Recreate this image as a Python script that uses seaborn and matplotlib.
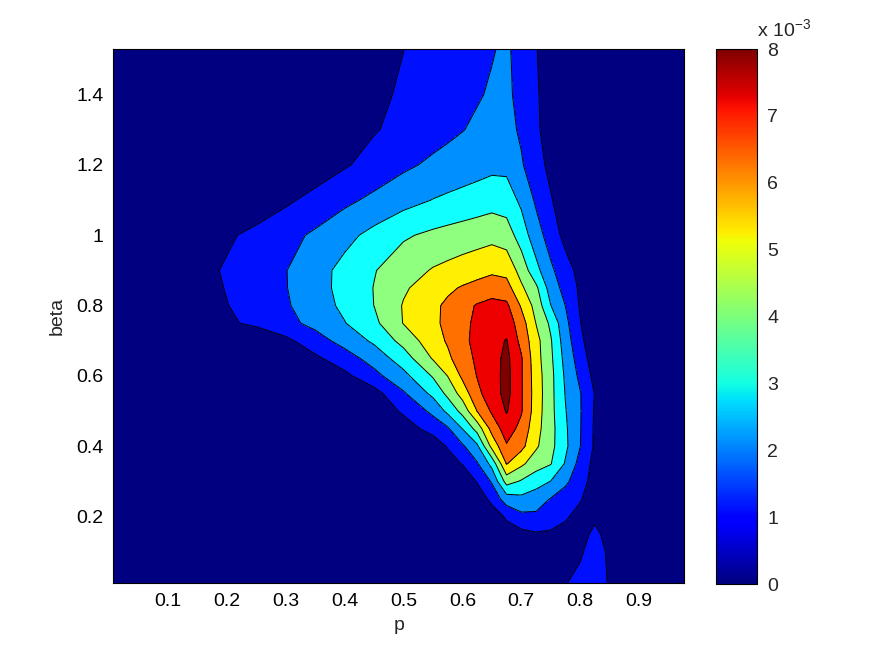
import numpy as np
import matplotlib
matplotlib.use("Agg")
import matplotlib.pyplot as plt
from matplotlib.colors import Normalize
from matplotlib.cm import ScalarMappable
import seaborn as sns

# ---- data (density values in units of 1e-3) ----
p_values = [0.007, 0.1, 0.15, 0.2, 0.25, 0.3, 0.35, 0.4, 0.45, 0.5, 0.55, 0.575, 0.6,
            0.625, 0.65, 0.675, 0.7, 0.725, 0.75, 0.775, 0.8, 0.825, 0.85, 0.9, 0.977]
beta_values = [0.01, 0.1, 0.15, 0.2, 0.25, 0.3, 0.35, 0.4, 0.45, 0.5, 0.55, 0.6, 0.65,
               0.7, 0.75, 0.8, 0.85, 0.9, 1.0, 1.1, 1.2, 1.3, 1.4, 1.53]

z_b001 = [0, 0, 0, 0, 0, 0, 0, 0, 0, 0, 0, 0, 0, 0, 0, 0, 0, 0.05, 0.3, 0.95, 1.3, 1.5, 0.9, 0, 0]
z_b010 = [0, 0, 0, 0, 0, 0, 0, 0, 0, 0, 0, 0, 0, 0, 0.05, 0.2, 0.3, 0.35, 0.3, 0.3, 0.85, 1.5, 0.8, 0, 0]
z_b015 = [0, 0, 0, 0, 0, 0, 0, 0, 0, 0, 0, 0, 0, 0.2, 0.35, 0.5, 0.7, 0.9, 0.85, 0.6, 0.5, 1.3, 0.5, 0, 0]
z_b020 = [0, 0, 0, 0, 0, 0, 0, 0, 0, 0, 0, 0, 0, 0.1, 0.4, 1.15, 1.75, 1.8, 1.5, 1.15, 0.6, 0.75, 0.1, 0, 0]
z_b025 = [0, 0, 0, 0, 0, 0, 0, 0, 0, 0, 0, 0, 0, 0.3, 1.3, 2.5, 2.75, 2.5, 1.95, 1.5, 1.1, 0.3, 0, 0, 0]
z_b030 = [0, 0, 0, 0, 0, 0, 0, 0, 0, 0, 0, 0, 0.1, 1.08, 2.1, 4.4, 3.9, 3.4, 2.98, 2.2, 1.4, 0.6, 0, 0, 0]
z_b035 = [0, 0, 0, 0, 0, 0, 0, 0, 0, 0, 0.1, 0.5, 1.05, 1.9, 3.3, 6.05, 5.2, 4.45, 4.05, 2.9, 1.65, 0.7, 0, 0, 0]
z_b040 = [0, 0, 0, 0, 0, 0, 0, 0, 0, 0, 0.33, 1.09, 1.85, 2.8, 5.3, 6.9, 6.3, 5.15, 4.3, 3.2, 2.02, 0.85, 0, 0, 0]
z_b045 = [0, 0, 0, 0, 0, 0, 0, 0, 0, 0.48, 1.41, 1.87, 3.02, 4.38, 6.35, 7.5, 6.7, 5.35, 4.35, 3.15, 2.05, 0.85, 0, 0, 0]
z_b050 = [0, 0, 0, 0, 0, 0, 0, 0, 0.23, 1.17, 2.23, 3.23, 4.32, 6.02, 7.14, 8.08, 7.1, 5.5, 4.3, 3.05, 2.07, 0.9, 0, 0, 0]
z_b055 = [0, 0, 0, 0, 0, 0, 0, 0, 0.62, 1.88, 3.24, 4.25, 5.41, 6.75, 7.55, 8.3, 7.1, 5.55, 4.3, 2.95, 2.05, 0.95, 0, 0, 0]
z_b060 = [0, 0, 0, 0, 0, 0, 0, 0.75, 1.7, 2.71, 4.09, 5.02, 6.19, 7.04, 7.6, 8.3, 7.1, 5.5, 4.3, 2.84, 1.78, 0.7, 0, 0, 0]
z_b065 = [0, 0, 0, 0, 0, 0, 0.81, 1.55, 2.41, 3.51, 5.09, 5.82, 6.5, 7.2, 7.6, 8.25, 7.1, 5.4, 4.2, 2.67, 1.52, 0.45, 0, 0, 0]
z_b070 = [0, 0, 0, 0, 0, 0.77, 1.58, 2.36, 3.17, 4.34, 5.6, 6.1, 6.74, 7.3, 7.7, 8.05, 6.7, 5.35, 4.1, 2.47, 1.26, 0.2, 0, 0, 0]
z_b075 = [0, 0, 0.33, 0.8, 1.26, 1.72, 2.27, 2.96, 3.77, 5.04, 5.79, 6.23, 6.75, 7.2, 7.5, 7.6, 6.47, 4.98, 3.8, 2.26, 1.05, 0, 0, 0, 0]
z_b080 = [0, 0.06, 0.51, 0.97, 1.43, 1.89, 2.51, 3.22, 4.01, 5.07, 5.79, 6.19, 6.67, 7.08, 7.3, 7.2, 5.89, 4.65, 3.02, 1.99, 0.9, 0, 0, 0, 0]
z_b085 = [0, 0.13, 0.59, 1.05, 1.5, 1.96, 2.62, 3.31, 4.03, 4.87, 5.51, 5.82, 6.09, 6.32, 6.55, 6.4, 5.18, 4.21, 2.56, 1.65, 0.84, 0.05, 0, 0, 0]
z_b090 = [0, 0.26, 0.68, 1.11, 1.54, 1.97, 2.62, 3.29, 3.95, 4.54, 5.08, 5.26, 5.45, 5.63, 5.82, 5.7, 4.62, 3.31, 2.19, 1.41, 0.68, 0, 0, 0, 0]
z_b100 = [0, 0, 0.42, 0.85, 1.27, 1.69, 2.16, 2.72, 3.29, 3.88, 4.2, 4.33, 4.45, 4.57, 4.7, 4.5, 3.53, 2.44, 1.55, 0.69, 0, 0, 0, 0, 0]
z_b110 = [0, 0, 0, 0, 0.35, 0.83, 1.3, 1.78, 2.22, 2.64, 3.03, 3.18, 3.32, 3.46, 3.6, 3.5, 2.8, 1.85, 1.09, 0.33, 0, 0, 0, 0, 0]
z_b120 = [0, 0, 0, 0, 0, 0, 0.44, 0.9, 1.36, 1.82, 2.18, 2.32, 2.46, 2.6, 2.75, 2.75, 2.1, 1.42, 0.72, 0, 0, 0, 0, 0, 0]
z_b130 = [0, 0, 0, 0, 0, 0, 0.24, 0.59, 0.93, 1.28, 1.62, 1.8, 1.97, 2.15, 2.3, 2.3, 1.86, 1.19, 0.5, 0, 0, 0, 0, 0, 0]
z_b140 = [0, 0, 0, 0, 0, 0, 0.17, 0.48, 0.8, 1.12, 1.44, 1.6, 1.76, 1.92, 2.1, 2.2, 1.7, 1.12, 0.53, 0, 0, 0, 0, 0, 0]
z_b153 = [0, 0, 0, 0, 0, 0, 0.06, 0.37, 0.69, 0.99, 1.31, 1.47, 1.63, 1.79, 1.94, 2.15, 1.63, 1.05, 0.47, 0, 0, 0, 0, 0, 0]

level_values = [0, 1, 2, 3, 4, 5, 6, 7, 8]   # contour levels (x 1e-3)
cbar_ticks = [0, 1, 2, 3, 4, 5, 6, 7, 8]

# ---- style ----
sns.set_style("ticks")
plt.rcParams["font.family"] = ["Liberation Sans", "DejaVu Sans"]
plt.rcParams["mathtext.fontset"] = "custom"
plt.rcParams["mathtext.rm"] = "Liberation Sans"

Z = np.array([z_b001, z_b010, z_b015, z_b020, z_b025, z_b030, z_b035, z_b040, z_b045,
              z_b050, z_b055, z_b060, z_b065, z_b070, z_b075, z_b080, z_b085, z_b090,
              z_b100, z_b110, z_b120, z_b130, z_b140, z_b153]) * 1e-3
P, B = np.meshgrid(p_values, beta_values)

# MATLAB-jet colours of each filled band (lower level mapped through jet(64))
band_colors = [(0, 0, 0.5), (0, 0.0625, 1), (0, 0.5625, 1), (0.0625, 1, 1),
               (0.5625, 1, 0.5), (1, 0.9375, 0), (1, 0.4375, 0), (0.9375, 0, 0), (0.5, 0, 0)]

fig = plt.figure(figsize=(8.75, 6.59), dpi=100)
ax = fig.add_axes([0.1295, 0.1149, 0.6526, 0.8108])
fill_levels = [-1e-6] + [v * 1e-3 for v in level_values[1:]] + [1.0]
ax.contourf(P, B, Z, levels=fill_levels, colors=band_colors)
ax.contour(P, B, Z, levels=[v * 1e-3 for v in level_values[1:]], colors="k", linewidths=0.7)

ax.set_xlim(min(p_values), max(p_values))
ax.set_ylim(min(beta_values), max(beta_values))
ax.set_xticks([0.1, 0.2, 0.3, 0.4, 0.5, 0.6, 0.7, 0.8, 0.9])
ax.set_xticklabels(["0.1", "0.2", "0.3", "0.4", "0.5", "0.6", "0.7", "0.8", "0.9"])
ax.set_yticks([0.2, 0.4, 0.6, 0.8, 1.0, 1.2, 1.4])
ax.set_yticklabels(["0.2", "0.4", "0.6", "0.8", "1", "1.2", "1.4"])
ax.tick_params(direction="in", top=True, right=True, length=5, width=0.7,
               labelsize=14, pad=7, colors="black")
for s in ax.spines.values():
    s.set_visible(True)
    s.set_linewidth(0.8)
    s.set_color("black")
ax.set_xlabel("p", fontsize=14, labelpad=5)
ax.set_ylabel("beta", fontsize=14, labelpad=8)

cax = fig.add_axes([0.818, 0.1138, 0.0475, 0.8118])
sm = ScalarMappable(norm=Normalize(0, 0.008), cmap="jet")
cb = fig.colorbar(sm, cax=cax, ticks=[t * 1e-3 for t in cbar_ticks])
cb.ax.set_yticklabels([str(t) for t in cbar_ticks])
cb.ax.tick_params(direction="in", left=True, right=True, length=5, width=0.7,
                  labelsize=14, pad=7)
cb.outline.set_linewidth(0.8)
cb.outline.set_edgecolor("black")
fig.text(757 / 875, 1 - 37 / 659, r"x 10$^{\mathregular{-3}}$", fontsize=14,
         ha="left", va="baseline")

fig.savefig("out.png", dpi=100, facecolor="white")
